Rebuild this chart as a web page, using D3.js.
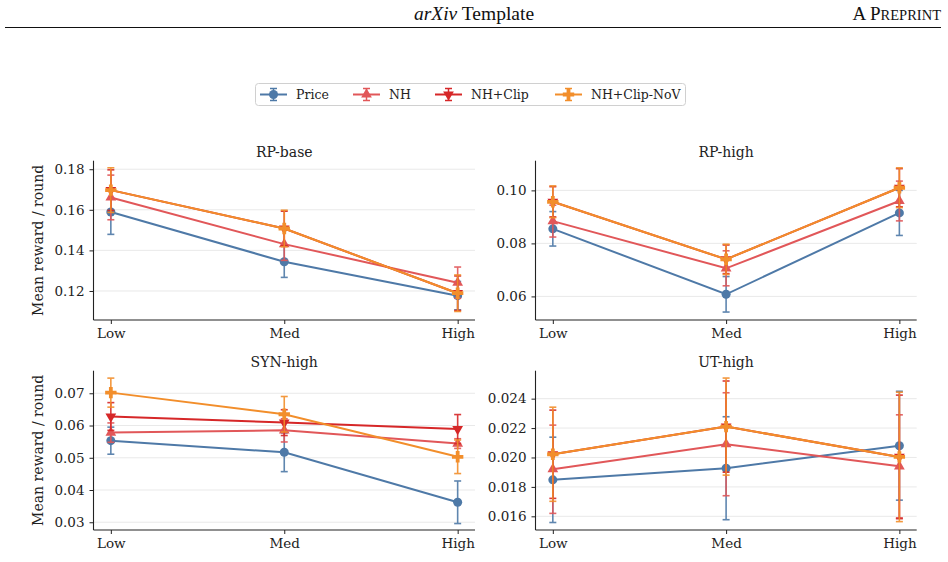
<!DOCTYPE html>
<html>
<head>
<meta charset="utf-8">
<script src="https://cdnjs.cloudflare.com/ajax/libs/d3/7.8.5/d3.min.js"></script>
<style>
    body { margin: 0; background: #fff; }
    svg { display: block; }
    .tick text { font-family: "DejaVu Serif", serif; font-size: 13.5px; fill: #222; }
</style>
</head>
<body>
<div id="chart"></div>
<script>
// Categories and panels
var categories = ["Low", "Med", "High"];
var panelTitles = ["RP-base", "RP-high", "SYN-high", "UT-high"];
var seriesNames = ["Price", "NH", "NH+Clip", "NH+Clip-NoV"];

// Means and error half-widths, indexed [panel][category]
var priceMean = [[0.1589, 0.1344, 0.1177], [0.0855, 0.0608, 0.0915], [0.0553, 0.0517, 0.0362], [0.01848, 0.01927, 0.0208]];
var priceErr  = [[0.0110, 0.0077, 0.0070], [0.0065, 0.0067, 0.0085], [0.0042, 0.0060, 0.0066], [0.0029, 0.0035, 0.0037]];
var nhMean    = [[0.1661, 0.1431, 0.1241], [0.0884, 0.0706, 0.0960], [0.0578, 0.0585, 0.0544], [0.0192, 0.0209, 0.0194]];
var nhErr     = [[0.0110, 0.0080, 0.0077], [0.0060, 0.0066, 0.0075], [0.0030, 0.0036, 0.0015], [0.0030, 0.0035, 0.0035]];
var clipMean  = [[0.1697, 0.1508, 0.1189], [0.0957, 0.0740, 0.1010], [0.0628, 0.0609, 0.0589], [0.02022, 0.0221, 0.02004]];
var clipErr   = [[0.0100, 0.0085, 0.0085], [0.0057, 0.0054, 0.0072], [0.0043, 0.0040, 0.0045], [0.0030, 0.0031, 0.0042]];
var novMean   = [[0.1697, 0.1508, 0.1189], [0.0957, 0.0740, 0.1010], [0.0702, 0.0635, 0.0503], [0.02022, 0.0221, 0.02004]];
var novErr    = [[0.0110, 0.0090, 0.0090], [0.0060, 0.0057, 0.0075], [0.0045, 0.0055, 0.0052], [0.0032, 0.0033, 0.0044]];

// Axis domains and tick values per panel
var yDomains = [[0.1057, 0.1842], [0.0511, 0.1112], [0.0276, 0.0770], [0.01507, 0.0259]];
var yTicks = [[0.12, 0.14, 0.16, 0.18], [0.06, 0.08, 0.10], [0.03, 0.04, 0.05, 0.06, 0.07], [0.016, 0.018, 0.020, 0.022, 0.024]];
var yFormats = [".2f", ".2f", ".2f", ".3f"];

var W = 948, H = 562;
var colours = ["#4e79a7", "#e15759", "#d62728", "#f28e2b"];
var symbols = [d3.symbolCircle, d3.symbolTriangle, d3.symbolTriangle, d3.symbolCross];
var symbolSizes = [64, 50, 50, 72];
var symbolRotate = [0, 0, 180, 0];
var allMeans = [priceMean, nhMean, clipMean, novMean];
var allErrs = [priceErr, nhErr, clipErr, novErr];

var svg = d3.select("#chart").append("svg")
    .attr("width", W)
    .attr("height", H);

/**
 * Page header from the paper template
 */
var head = svg.append("text")
    .attr("x", 474)
    .attr("y", 20)
    .attr("text-anchor", "middle")
    .style("font-family", "'Liberation Serif', 'Times New Roman', serif")
    .style("font-size", "19.5px")
    .style("fill", "#111");
head.append("tspan").style("font-style", "italic").text("arXiv");
head.append("tspan").text(" Template");

var pre = svg.append("text")
    .attr("x", 941)
    .attr("y", 20)
    .attr("text-anchor", "end")
    .style("font-family", "'Liberation Serif', 'Times New Roman', serif")
    .style("fill", "#111");
pre.append("tspan").style("font-size", "19px").text("A P");
pre.append("tspan").style("font-size", "14.5px").text("REPRINT");

svg.append("line")
    .attr("x1", 5).attr("x2", 941)
    .attr("y1", 27.5).attr("y2", 27.5)
    .attr("stroke", "#111")
    .attr("stroke-width", 1);

/**
 * Panels: left/right/top/bottom in page pixels
 */
var boxes = [
    {l: 93.5, r: 475, t: 160.7, b: 320},
    {l: 535.5, r: 916.7, t: 160.7, b: 320},
    {l: 93.5, r: 475, t: 370.7, b: 530},
    {l: 535.5, r: 916.7, t: 370.7, b: 530}
];

function symbolPath(s) {
    return d3.symbol().type(symbols[s]).size(symbolSizes[s])();
}

panelTitles.forEach(function (title, p) {
    var box = boxes[p];
    var g = svg.append("g");

    var x = d3.scaleLinear().domain([-0.1, 2.1]).range([box.l, box.r]);
    var y = d3.scaleLinear().domain(yDomains[p]).range([box.b, box.t]);

    // Horizontal grid lines
    g.selectAll(".grid")
        .data(yTicks[p])
        .enter()
        .append("line")
        .attr("x1", box.l).attr("x2", box.r)
        .attr("y1", function (d) { return y(d); })
        .attr("y2", function (d) { return y(d); })
        .attr("stroke", "#e6e6e6")
        .attr("stroke-width", 0.9);

    // Axes
    var xAxis = g.append("g")
        .attr("transform", "translate(0," + box.b + ")")
        .call(d3.axisBottom(x).tickValues([0, 1, 2]).tickSize(4).tickPadding(4)
            .tickFormat(function (d) { return categories[d]; }));
    xAxis.select(".domain").attr("d", "M" + box.l + ",0H" + box.r).attr("stroke-width", 1.1);

    var yAxis = g.append("g")
        .attr("transform", "translate(" + box.l + ",0)")
        .call(d3.axisLeft(y).tickValues(yTicks[p]).tickSize(4).tickPadding(5)
            .tickFormat(d3.format(yFormats[p])));
    yAxis.select(".domain").attr("d", "M0," + box.t + "V" + box.b).attr("stroke-width", 1.1);

    // Title
    g.append("text")
        .attr("x", (box.l + box.r) / 2)
        .attr("y", box.t - 3.5)
        .attr("text-anchor", "middle")
        .style("font-family", "'DejaVu Serif', serif")
        .style("font-size", "14px")
        .style("fill", "#222")
        .text(title);

    // Y label on the left column only
    if (p % 2 == 0) {
        g.append("text")
            .attr("transform", "translate(43," + ((box.t + box.b) / 2) + ")rotate(-90)")
            .attr("text-anchor", "middle")
            .style("font-family", "'DejaVu Serif', serif")
            .style("font-size", "14px")
            .style("fill", "#222")
            .text("Mean reward / round");
    }

    // Series: error bars, line, markers
    seriesNames.forEach(function (name, s) {
        var pts = categories.map(function (c, i) {
            return {i: i, m: allMeans[s][p][i], e: allErrs[s][p][i]};
        });
        var col = colours[s];

        var eb = g.append("g").attr("stroke", col).attr("stroke-width", 1.6).attr("opacity", 0.9);
        eb.selectAll(".v").data(pts).enter().append("line")
            .attr("x1", function (d) { return x(d.i); })
            .attr("x2", function (d) { return x(d.i); })
            .attr("y1", function (d) { return y(d.m - d.e); })
            .attr("y2", function (d) { return y(d.m + d.e); });
        [-1, 1].forEach(function (sign) {
            eb.selectAll(".c" + sign).data(pts).enter().append("line")
                .attr("x1", function (d) { return x(d.i) - 3.5; })
                .attr("x2", function (d) { return x(d.i) + 3.5; })
                .attr("y1", function (d) { return y(d.m + sign * d.e); })
                .attr("y2", function (d) { return y(d.m + sign * d.e); });
        });

        g.append("path")
            .datum(pts)
            .attr("fill", "none")
            .attr("stroke", col)
            .attr("stroke-width", 2)
            .attr("d", d3.line()
                .x(function (d) { return x(d.i); })
                .y(function (d) { return y(d.m); }));

        g.selectAll(".mk" + s).data(pts).enter().append("path")
            .attr("d", symbolPath(s))
            .attr("fill", col)
            .attr("transform", function (d) {
                return "translate(" + x(d.i) + "," + y(d.m) + ")rotate(" + symbolRotate[s] + ")";
            });
    });
});

// Common tick styling
svg.selectAll(".tick line").attr("stroke", "#222").attr("stroke-width", 1);
svg.selectAll(".domain").attr("stroke", "#222");

/**
 * Legend box at the top
 */
var legend = svg.append("g");
legend.append("rect")
    .attr("x", 255.5).attr("y", 83.5)
    .attr("width", 430).attr("height", 22)
    .attr("rx", 3)
    .attr("fill", "#fff")
    .attr("stroke", "#d0d0d0");

var legendX = [260, 353, 435, 555];
seriesNames.forEach(function (name, s) {
    var lx = legendX[s], ly = 94.5;
    var item = legend.append("g").attr("transform", "translate(" + lx + "," + ly + ")");
    item.append("line").attr("x1", 0).attr("x2", 27).attr("stroke", colours[s]).attr("stroke-width", 2);
    item.append("line").attr("x1", 13.5).attr("x2", 13.5).attr("y1", -6).attr("y2", 6)
        .attr("stroke", colours[s]).attr("stroke-width", 1.5);
    [-6, 6].forEach(function (cy) {
        item.append("line").attr("x1", 10).attr("x2", 17).attr("y1", cy).attr("y2", cy)
            .attr("stroke", colours[s]).attr("stroke-width", 1.5);
    });
    item.append("path")
        .attr("d", symbolPath(s))
        .attr("fill", colours[s])
        .attr("transform", "translate(13.5,0)rotate(" + symbolRotate[s] + ")");
    item.append("text")
        .attr("x", 36)
        .attr("y", 4.5)
        .style("font-family", "'DejaVu Serif', serif")
        .style("font-size", "12.5px")
        .style("fill", "#222")
        .text(name);
});
</script>
</body>
</html>
